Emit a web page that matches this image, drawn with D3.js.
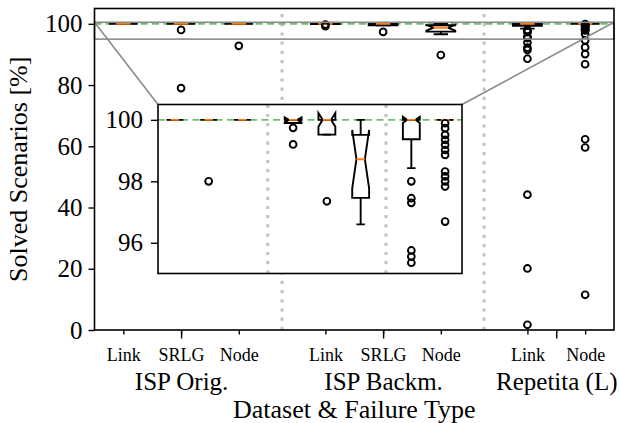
<!DOCTYPE html>
<html><head><meta charset="utf-8">
<script src="https://cdn.jsdelivr.net/npm/d3@7"></script>
<style>
body{margin:0;background:#fff}
svg{display:block}
text{font-family:"Liberation Serif","DejaVu Serif",serif;fill:#000}
</style>
</head><body>
<svg id="c" width="619" height="423"></svg>
<script>
// ---------- data ----------
const categories = ["Link","SRLG","Node","Link","SRLG","Node","Link","Node"];
const groups = ["ISP Orig.","ISP Backm.","Repetita (L)"];
const positions = [0,1,2,3.5,4.5,5.5,7,8];
const groupCenters = [1,4.5,7.5];
const separators = [2.75,6.25];
const q1     = [100,100,100,99.90,99.52,97.46,99.37,100];
const med    = [100,100,100,100,100,98.72,100,100];
const q3     = [100,100,100,100,100,99.51,100,100];
const whislo = [100,100,100,99.90,99.52,96.60,98.43,100];
const whishi = [100,100,100,100,100,100,100,100];
const cilo   = [100,100,100,99.92,99.78,97.77,99.90,100];
const cihi   = [100,100,100,100.08,100.22,99.67,100.10,100];
const fliers = [
  [],
  [98.0,79.0],
  [92.8],
  [99.74,99.2],
  [97.35],
  [89.8],
  [98.0,97.45,97.3,95.75,95.55,95.35,93.9,92.2,91.5,88.6,44.2,20.1,1.7],
  [99.89,99.73,99.51,99.35,99.19,99.02,98.86,98.32,98.16,98.0,97.83,96.69,94.6,92.3,90.1,86.8,62.3,59.6,11.5]
];
const yTicksMain = [0,20,40,60,80,100];
const yTicksInset = [96,98,100];
const refValue = 100;
const zoomRange = [95,100.5];

// ---------- layout ----------
const FONT = '"Liberation Serif","DejaVu Serif",serif';
const svg = d3.select("#c");
const M = {l:94.5,r:614,t:8.5,b:330};
const I = {l:158,r:462,t:104.5,b:273.5};
const x  = d3.scaleLinear().domain([-0.5,8.5]).range([M.l,M.r]);
const y  = d3.scaleLinear().domain([0,105]).range([M.b,M.t]);
const xi = d3.scaleLinear().domain([-0.5,8.5]).range([I.l,I.r]);
const yi = d3.scaleLinear().domain(zoomRange).range([I.b,I.t]);
const bw = 0.5;
const LW = 1.9;

function drawPanel(g, xs, ys){
  separators.forEach(s=>{
    g.append("line").attr("x1",xs(s)).attr("x2",xs(s))
      .attr("y1",ys.range()[0]).attr("y2",ys.range()[1])
      .attr("stroke","#c4c4c4").attr("stroke-width",3.2)
      .attr("stroke-dasharray","3.2,6");
  });
  g.append("line").attr("x1",xs.range()[0]).attr("x2",xs.range()[1])
    .attr("y1",ys(refValue)).attr("y2",ys(refValue))
    .attr("stroke","#6fc06f").attr("stroke-width",1.8)
    .attr("stroke-dasharray","7,4.5");
  positions.forEach((p,i)=>{
    const bl=xs(p-bw/2), br=xs(p+bw/2), nl=xs(p-bw/4), nr=xs(p+bw/4), c=xs(p);
    const bx = g.append("g").attr("stroke","#000").attr("stroke-width",LW).attr("fill","none");
    bx.append("line").attr("x1",c).attr("x2",c).attr("y1",ys(q1[i])).attr("y2",ys(whislo[i]));
    bx.append("line").attr("x1",c).attr("x2",c).attr("y1",ys(q3[i])).attr("y2",ys(whishi[i]));
    bx.append("line").attr("x1",nl).attr("x2",nr).attr("y1",ys(whislo[i])).attr("y2",ys(whislo[i]));
    bx.append("line").attr("x1",nl).attr("x2",nr).attr("y1",ys(whishi[i])).attr("y2",ys(whishi[i]));
    const pts = [[bl,q1[i]],[br,q1[i]],[br,cilo[i]],[nr,med[i]],[br,cihi[i]],[br,q3[i]],
                 [bl,q3[i]],[bl,cihi[i]],[nl,med[i]],[bl,cilo[i]],[bl,q1[i]]];
    bx.append("path").attr("stroke-linejoin","miter")
      .attr("d", d3.line().x(d=>d[0]).y(d=>ys(d[1]))(pts)+"Z");
    g.append("line").attr("x1",nl).attr("x2",nr).attr("y1",ys(med[i])).attr("y2",ys(med[i]))
      .attr("stroke","#ff7f0e").attr("stroke-width",LW);
    g.selectAll(null).data(fliers[i]).enter().append("circle")
      .attr("cx",c).attr("cy",d=>ys(d)).attr("r",3.4)
      .attr("fill","none").attr("stroke","#000").attr("stroke-width",1.9);
  });
}

function styleAxis(sel, size){
  sel.select(".domain").remove();
  sel.attr("font-family",FONT);
  sel.selectAll(".tick line").attr("stroke","#000").attr("stroke-width",1.4);
  sel.selectAll(".tick text").attr("font-size",size).attr("font-family",FONT);
}

// ---------- main axes ----------
const defs = svg.append("defs");
defs.append("clipPath").attr("id","cm").append("rect")
  .attr("x",M.l).attr("y",M.t).attr("width",M.r-M.l).attr("height",M.b-M.t);
defs.append("clipPath").attr("id","ci").append("rect")
  .attr("x",I.l).attr("y",I.t).attr("width",I.r-I.l).attr("height",I.b-I.t);

const gm = svg.append("g").attr("clip-path","url(#cm)");
drawPanel(gm, x, y);

const ya = svg.append("g").attr("transform",`translate(${M.l},0)`)
  .call(d3.axisLeft(y).tickValues(yTicksMain).tickSize(6).tickPadding(6).tickFormat(d3.format("d")));
styleAxis(ya, 25);

const xa1 = svg.append("g").attr("transform",`translate(0,${M.b})`)
  .call(d3.axisBottom(x).tickValues(positions).tickSize(4.5).tickPadding(13.5)
        .tickFormat((d,i)=>categories[i]));
styleAxis(xa1, 18);
const xa2 = svg.append("g").attr("transform",`translate(0,${M.b})`)
  .call(d3.axisBottom(x).tickValues(groupCenters).tickSize(8.5).tickPadding(33.5)
        .tickFormat((d,i)=>groups[i]));
styleAxis(xa2, 25);

svg.append("text").attr("x",(M.l+M.r)/2).attr("y",418).attr("text-anchor","middle")
  .attr("font-size",26).text("Dataset & Failure Type");
svg.append("text").attr("transform",`translate(27,${(M.t+M.b)/2}) rotate(-90)`)
  .attr("text-anchor","middle").attr("font-size",26).text("Solved Scenarios [%]");

// indicator rectangle + connectors
svg.append("rect").attr("x",M.l).attr("y",y(zoomRange[1])).attr("width",M.r-M.l)
  .attr("height",y(zoomRange[0])-y(zoomRange[1])).attr("fill","none")
  .attr("stroke","#8a8a8a").attr("stroke-width",1.6);
svg.append("line").attr("x1",M.l).attr("y1",y(zoomRange[1])).attr("x2",I.l).attr("y2",I.t)
  .attr("stroke","#8a8a8a").attr("stroke-width",1.6);
svg.append("line").attr("x1",M.r).attr("y1",y(zoomRange[1])).attr("x2",I.r).attr("y2",I.t)
  .attr("stroke","#8a8a8a").attr("stroke-width",1.6);

svg.append("rect").attr("x",M.l).attr("y",M.t).attr("width",M.r-M.l).attr("height",M.b-M.t)
  .attr("fill","none").attr("stroke","#000").attr("stroke-width",1.6);

// ---------- inset axes ----------
svg.append("rect").attr("x",I.l).attr("y",I.t).attr("width",I.r-I.l).attr("height",I.b-I.t)
  .attr("fill","#fff");
const gi = svg.append("g").attr("clip-path","url(#ci)");
drawPanel(gi, xi, yi);
const yia = svg.append("g").attr("transform",`translate(${I.l},0)`)
  .call(d3.axisLeft(yi).tickValues(yTicksInset).tickSize(7).tickPadding(8).tickFormat(d3.format("d")));
styleAxis(yia, 25);
svg.append("rect").attr("x",I.l).attr("y",I.t).attr("width",I.r-I.l).attr("height",I.b-I.t)
  .attr("fill","none").attr("stroke","#000").attr("stroke-width",1.6);
</script>
</body></html>
